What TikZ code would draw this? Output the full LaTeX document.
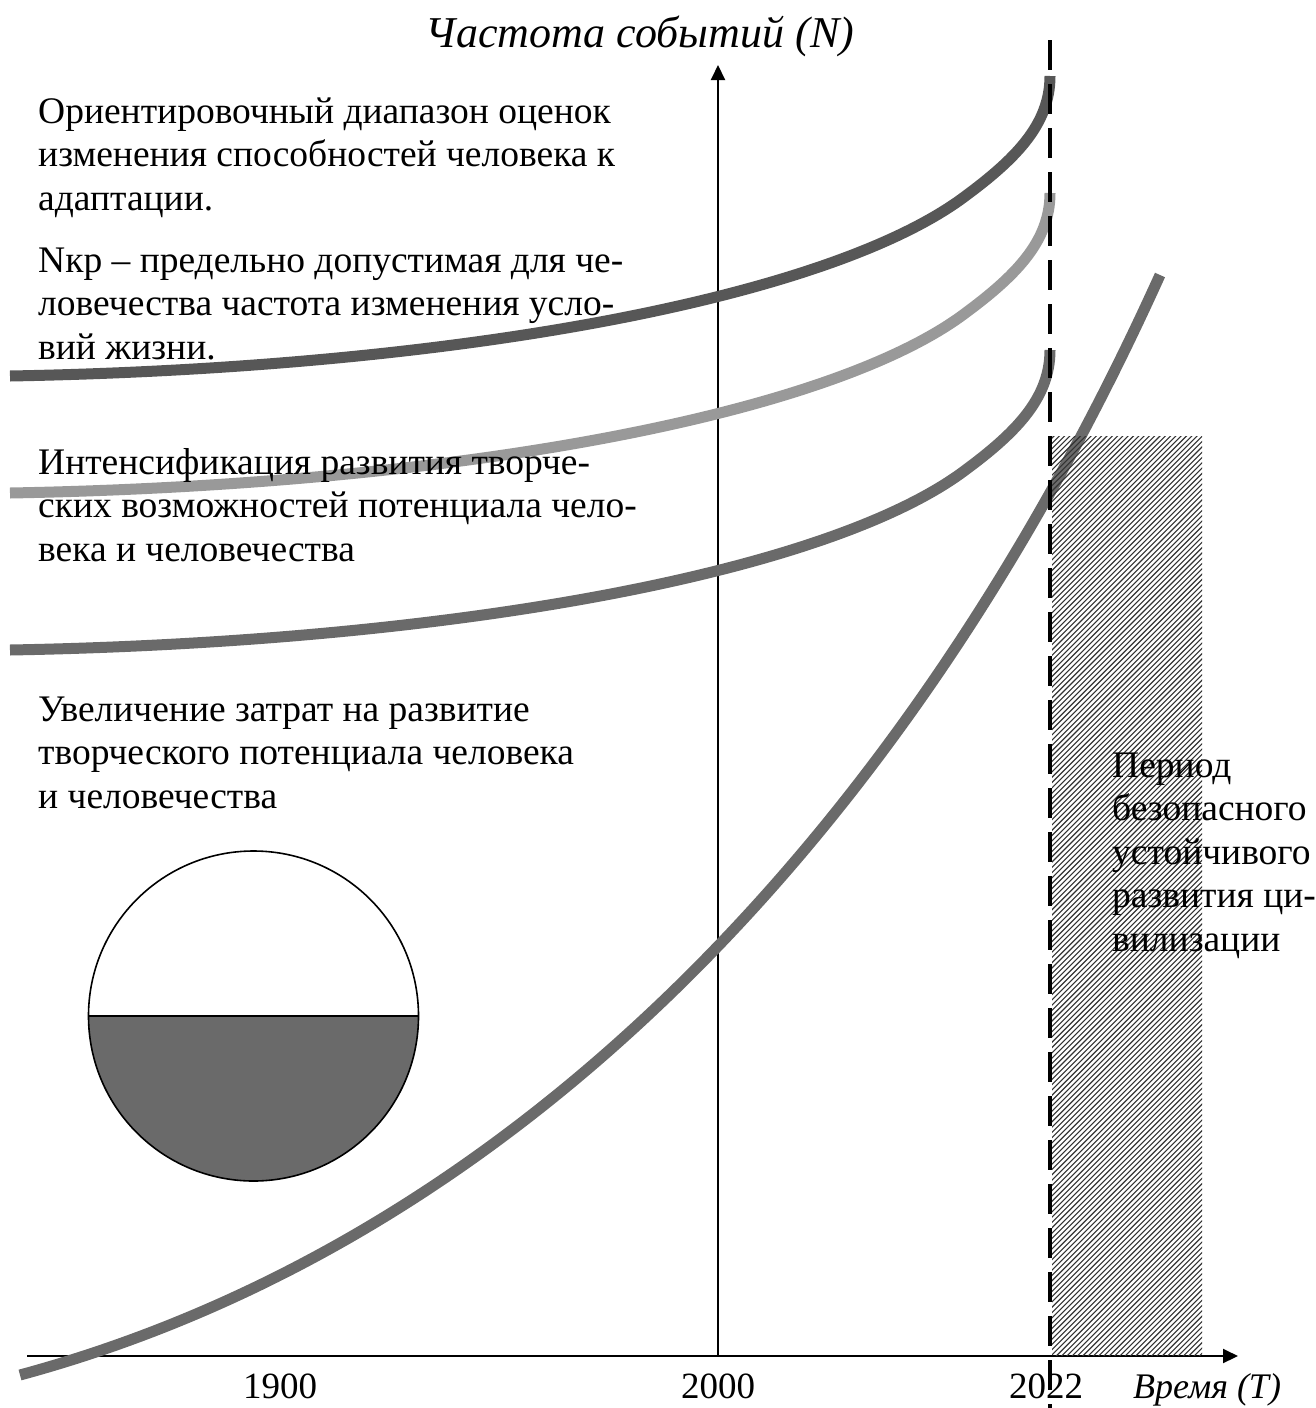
\documentclass[tikz,border=0pt]{standalone}
\usepackage{fontspec}
\setmainfont{Liberation Serif}
\usetikzlibrary{arrows.meta}
\definecolor{darkc}{HTML}{575757}
\definecolor{lightc}{HTML}{999999}
\definecolor{midc}{HTML}{6A6A6A}
\begin{document}
\begin{tikzpicture}[x=1pt,y=-1pt,
  txt/.style={anchor=base west, inner sep=0pt, font=\fontsize{37.5}{43.5}\selectfont},
  num/.style={anchor=base, inner sep=0pt, font=\fontsize{37}{43}\selectfont},
  ital/.style={inner sep=0pt, font=\itshape},
  curve/.style={line width=11pt, line cap=butt},
  axisline/.style={line width=2pt, -{Triangle[length=15pt,width=14pt]}},
  divider/.style={line width=4pt, dash pattern=on 30pt off 14pt},
  hatch/.style={line width=1.1pt, black!80}
]
\useasboundingbox (0,0) rectangle (1315,1408);

% axes
\coordinate (xs) at (27,1356);
\coordinate (xe) at (1238,1356);
\coordinate (ys) at (718,1356);
\coordinate (ye) at (718,65);
\draw[axisline] (xs) -- (xe);
\draw[axisline] (ys) -- (ye);

% three upper curves (same shape shifted)
\foreach \dy/\col in {0/darkc, 117/lightc, 274/midc}{
  \draw[curve,\col] (10,{376+\dy}) .. controls (450,{368+\dy}) and (820,{300+\dy}) .. (960,{200+\dy})
     .. controls (1015,{160+\dy}) and (1050,{125+\dy}) .. (1050,{76+\dy});
}

% growth curve
\draw[curve,midc] (20,1375) .. controls (500,1245) and (900,850) .. (1160,275);

% hatched region
\begin{scope}
  \clip (1052,436) rectangle (1202,1355);
  \foreach \k in {0,...,205}{
    \draw[hatch] ({130+5.3*\k},1360) -- ({130+5.3*\k+930},430);
  }
\end{scope}

% dashed divider
\coordinate (dtop) at (1050,40);
\coordinate (dbot) at (1050,1408);
\draw[divider] (dtop) -- (dbot);

% circle
\coordinate (cc) at (253.5,1016);
\fill[midc] (88.5,1016) arc[start angle=180, end angle=0, radius=165] -- cycle;
\draw[line width=1.6pt] (cc) circle[radius=165];
\draw[line width=1.6pt] (88.5,1016) -- (418.5,1016);

% titles
\node[ital, anchor=base, font=\fontsize{44}{50}\selectfont\itshape] (ttl) at (640,47) {Частота событий (N)};
\node[ital, anchor=base west, font=\fontsize{36}{42}\selectfont\itshape] (tlab) at (1133,1398) {Время (Т)};
\node[num] (n1900) at (280,1398) {1900};
\node[num] (n2000) at (718,1398) {2000};
\node[num] (n2022) at (1046,1398) {2022};

% left texts
\node[txt] (a1) at (38,123) {Ориентировочный диапазон оценок};
\node[txt] (a2) at (38,166.5) {изменения способностей человека к};
\node[txt] (a3) at (38,210) {адаптации.};
\node[txt] (b1) at (38,272) {Nкр – предельно допустимая для че-};
\node[txt] (b2) at (38,315.5) {ловечества частота изменения усло-};
\node[txt] (b3) at (38,359) {вий жизни.};
\node[txt] (c1) at (38,474) {Интенсификация развития творче-};
\node[txt] (c2) at (38,517.5) {ских возможностей потенциала чело-};
\node[txt] (c3) at (38,561) {века и человечества};
\node[txt] (d1) at (38,721) {Увеличение затрат на развитие};
\node[txt] (d2) at (38,764.5) {творческого потенциала человека};
\node[txt] (d3) at (38,808) {и человечества};
\node[txt] (e1) at (1112,777) {Период};
\node[txt] (e2) at (1112,820.5) {безопасного};
\node[txt] (e3) at (1112,864) {устойчивого};
\node[txt] (e4) at (1112,907.5) {развития ци-};
\node[txt] (e5) at (1112,951) {вилизации};
\end{tikzpicture}
\end{document}
